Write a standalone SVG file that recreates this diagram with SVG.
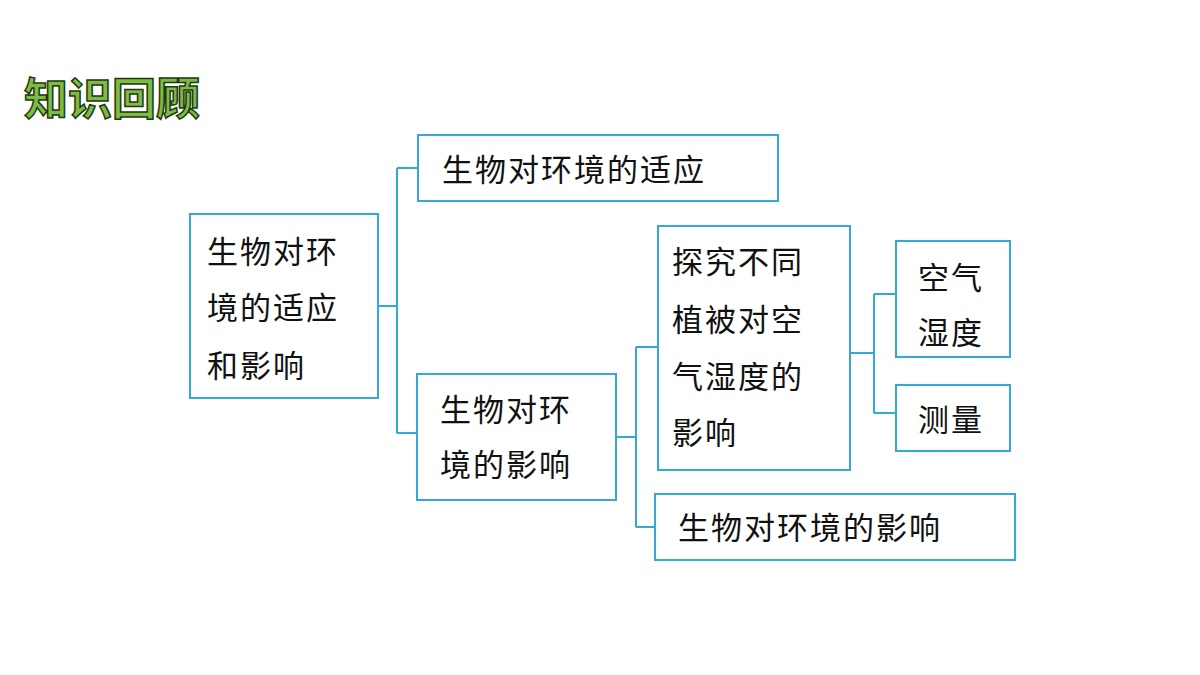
<svg xmlns="http://www.w3.org/2000/svg" width="1200" height="675" viewBox="0 0 1200 675">
<style>
.b{fill:#fff;stroke:#35a9d6;stroke-width:2}
.t{font-family:"Noto Sans CJK SC","Noto Sans",sans-serif;font-size:31px;fill:#111;letter-spacing:2px}
.c{fill:none;stroke:#35a9d6;stroke-width:2}
</style>
<rect width="1200" height="675" fill="#fff"/>
<text x="24" y="115" font-family="Noto Sans CJK SC,sans-serif" font-size="44" font-weight="bold" fill="#7dbb45" stroke="#1e3a10" stroke-width="1.5">知识回顾</text>
<g id="connectors">
<path class="c" d="M378 306H397M397 168V433M397 168H418M397 433H417"/>
<path class="c" d="M616 437H636M636 347V527M636 347H658M636 527H655"/>
<path class="c" d="M850 353H874M874 294V413M874 294H896M874 413H896"/>
</g>
<g id="n1"><rect class="b" x="190" y="214" width="188" height="184"/>
<text class="t" x="207" y="263">生物对环</text><text class="t" x="207" y="319">境的适应</text><text class="t" x="207" y="377">和影响</text></g>
<g id="n2"><rect class="b" x="418" y="135" width="360" height="66"/><text class="t" x="442" y="181">生物对环境的适应</text></g>
<g id="n3"><rect class="b" x="417" y="374" width="199" height="126"/>
<text class="t" x="440" y="421">生物对环</text><text class="t" x="440" y="476">境的影响</text></g>
<g id="n4"><rect class="b" x="658" y="226" width="192" height="244"/>
<text class="t" x="672" y="273">探究不同</text><text class="t" x="672" y="331">植被对空</text><text class="t" x="672" y="388">气湿度的</text><text class="t" x="672" y="444">影响</text></g>
<g id="n5"><rect class="b" x="896" y="241" width="114" height="116"/>
<text class="t" x="918" y="289">空气</text><text class="t" x="918" y="344">湿度</text></g>
<g id="n6"><rect class="b" x="896" y="385" width="114" height="66"/><text class="t" x="918" y="431">测量</text></g>
<g id="n7"><rect class="b" x="655" y="494" width="360" height="66"/><text class="t" x="678" y="539">生物对环境的影响</text></g>
</svg>
